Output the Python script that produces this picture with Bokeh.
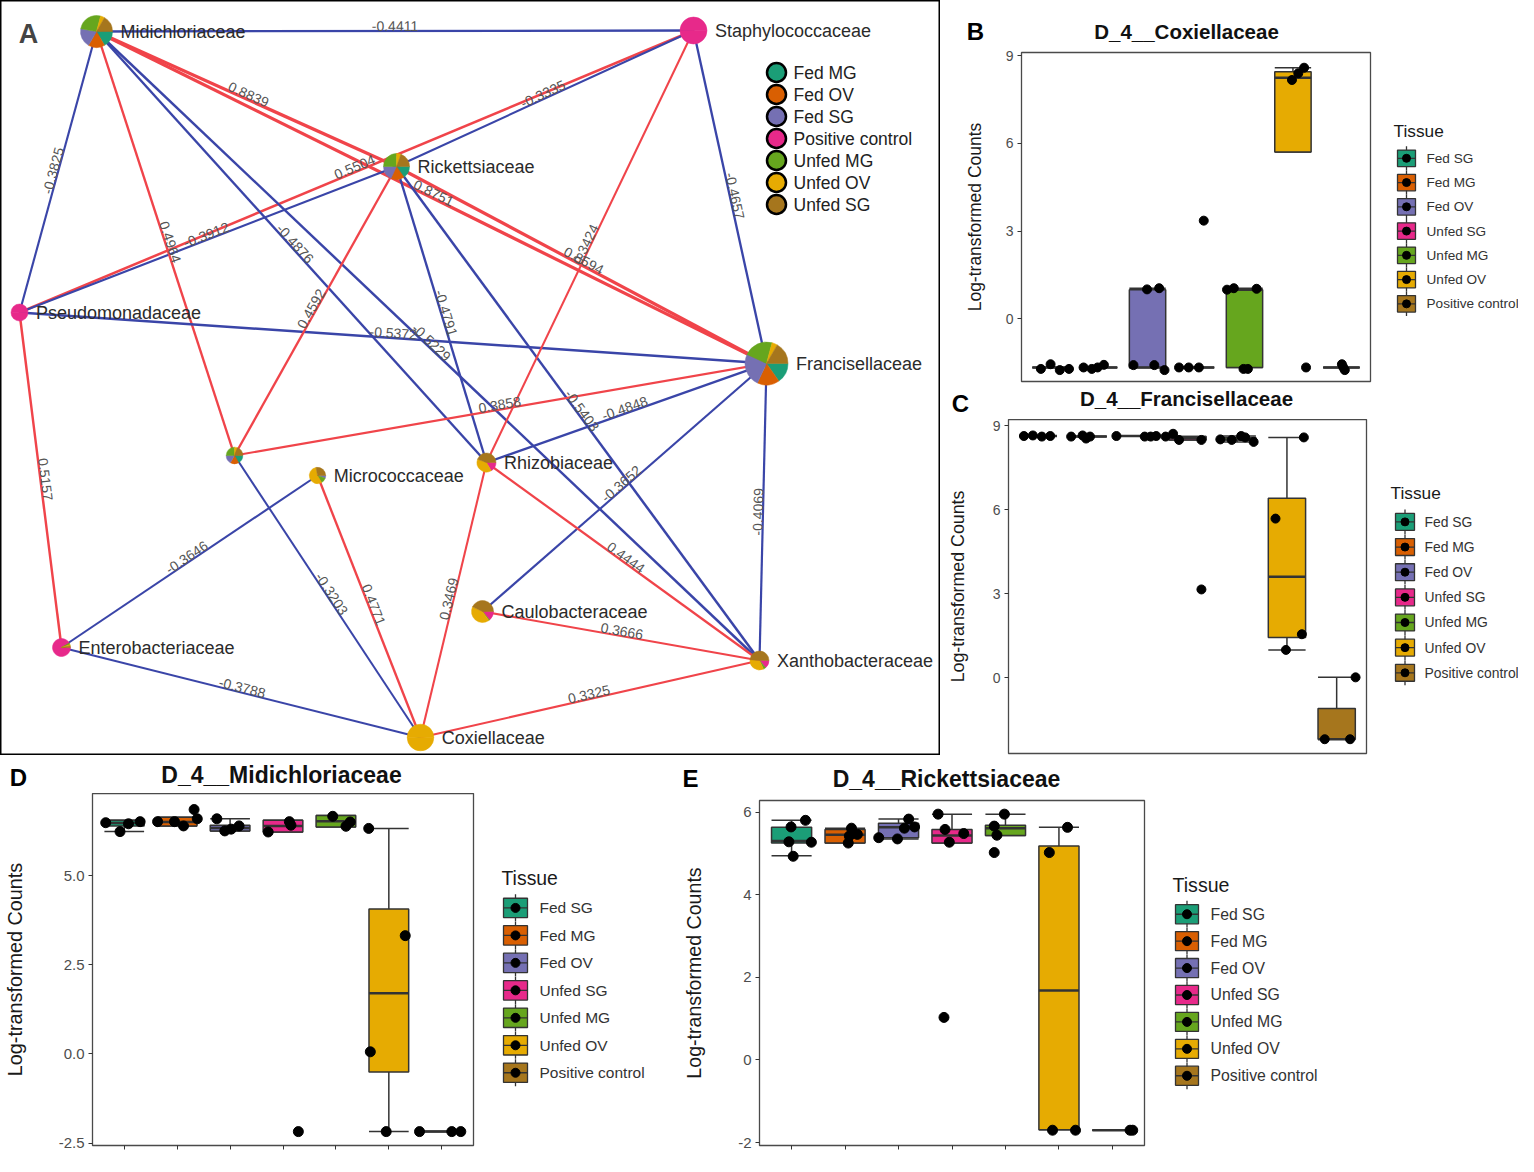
import math
from bokeh.plotting import figure
from bokeh.models import Range1d, Label, FixedTicker
from bokeh.layouts import row, column
from bokeh.embed import file_html
from bokeh.resources import INLINE
from bokeh.core.properties import value

FONT = "Liberation Sans"

# ---------------- Panel A : network ----------------
node_names = ["Midichloriaceae", "Staphylococcaceae", "Rickettsiaceae", "Pseudomonadaceae",
              "Francisellaceae", "unnamed", "Micrococcaceae", "Rhizobiaceae", "Caulobacteraceae",
              "Enterobacteriaceae", "Xanthobacteraceae", "Coxiellaceae"]
node_labels = ["Midichloriaceae", "Staphylococcaceae", "Rickettsiaceae", "Pseudomonadaceae",
               "Francisellaceae", "", "Micrococcaceae", "Rhizobiaceae", "Caulobacteraceae",
               "Enterobacteriaceae", "Xanthobacteraceae", "Coxiellaceae"]
node_x = [96, 693, 396, 19, 766, 234, 317, 486, 482, 61, 759, 420]
node_y = [724, 725, 589, 443, 392, 300, 280, 293, 144, 108, 95, 18]
node_r = [16, 13.5, 13, 8.5, 21.5, 8.3, 8.2, 9.5, 11, 9, 9.5, 13.3]

net_tissues = ["Fed MG", "Fed OV", "Fed SG", "Positive control", "Unfed MG", "Unfed OV", "Unfed SG"]
net_colors = ["#1b9e77", "#d95f02", "#7570b3", "#e7298a", "#66a61e", "#e6ab02", "#a6761d"]
# share of each tissue in each node (degrees of the pie)
node_share = [
    [60, 60, 70, 0, 95, 15, 60],
    [0, 0, 0, 360, 0, 0, 0],
    [55, 60, 65, 0, 90, 20, 70],
    [0, 0, 0, 360, 0, 0, 0],
    [55, 60, 90, 0, 80, 15, 60],
    [60, 60, 60, 0, 90, 20, 70],
    [0, 0, 20, 0, 40, 200, 100],
    [0, 0, 0, 60, 0, 140, 160],
    [0, 0, 0, 50, 5, 150, 155],
    [0, 0, 0, 330, 10, 10, 10],
    [0, 0, 0, 50, 15, 120, 175],
    [0, 0, 0, 0, 0, 360, 0],
]

edge_from = ["Midichloriaceae", "Midichloriaceae", "Midichloriaceae", "Midichloriaceae", "Rickettsiaceae",
             "Pseudomonadaceae", "Pseudomonadaceae", "Rickettsiaceae", "Midichloriaceae", "Midichloriaceae",
             "Midichloriaceae", "Pseudomonadaceae", "Pseudomonadaceae", "Rickettsiaceae", "Rickettsiaceae",
             "Rickettsiaceae", "unnamed", "Rhizobiaceae", "Caulobacteraceae", "Francisellaceae",
             "Staphylococcaceae", "unnamed", "Micrococcaceae", "Micrococcaceae", "Enterobacteriaceae",
             "Rhizobiaceae", "Rhizobiaceae", "Caulobacteraceae", "Coxiellaceae", "Staphylococcaceae"]
edge_to = ["Staphylococcaceae", "Pseudomonadaceae", "Rickettsiaceae", "Francisellaceae", "Francisellaceae",
           "Staphylococcaceae", "Rickettsiaceae", "Staphylococcaceae", "unnamed", "Rhizobiaceae",
           "Xanthobacteraceae", "Francisellaceae", "Enterobacteriaceae", "unnamed", "Rhizobiaceae",
           "Xanthobacteraceae", "Francisellaceae", "Francisellaceae", "Francisellaceae", "Xanthobacteraceae",
           "Francisellaceae", "Coxiellaceae", "Coxiellaceae", "Enterobacteriaceae", "Coxiellaceae",
           "Coxiellaceae", "Xanthobacteraceae", "Xanthobacteraceae", "Xanthobacteraceae", "Rhizobiaceae"]
edge_weight = [-0.4411, -0.3825, 0.8839, 0.8751, 0.8594,
               0.5504, -0.3912, -0.3335, 0.4964, -0.4876,
               -0.5229, -0.5372, 0.5157, 0.4592, -0.4791,
               -0.5403, 0.3858, -0.4848, -0.3652, -0.4069,
               -0.4657, -0.3203, 0.4771, -0.3646, -0.3788,
               0.3469, 0.4444, 0.3666, 0.3325, 0.3424]

POS_COL = "#f0444a"
NEG_COL = "#3a45a8"

pA = figure(width=940, height=755, x_range=Range1d(0, 940), y_range=Range1d(0, 755),
            toolbar_location=None, output_backend="svg", min_border=0,
            x_axis_location=None, y_axis_location=None)
pA.grid.grid_line_color = None
pA.outline_line_color = "black"
pA.outline_line_width = 2

idx = {n: i for i, n in enumerate(node_names)}
ex0, ey0, ex1, ey1, ecol, ewid = [], [], [], [], [], []
lx, ly, lang, ltxt = [], [], [], []
for a, b, w in zip(edge_from, edge_to, edge_weight):
    i, j = idx[a], idx[b]
    x0, y0, x1, y1 = node_x[i], node_y[i], node_x[j], node_y[j]
    ex0.append(x0); ey0.append(y0); ex1.append(x1); ey1.append(y1)
    ecol.append(POS_COL if w > 0 else NEG_COL)
    ewid.append(1.3 + 2.2 * abs(w))
    ang = math.atan2(y1 - y0, x1 - x0)
    if ang > math.pi / 2:
        ang -= math.pi
    elif ang <= -math.pi / 2:
        ang += math.pi
    lx.append((x0 + x1) / 2); ly.append((y0 + y1) / 2); lang.append(ang)
    ltxt.append("%.4f" % w)

pA.segment(x0=ex0, y0=ey0, x1=ex1, y1=ey1, line_color=ecol, line_width=ewid)
pA.text(x=lx, y=ly, text=ltxt, angle=lang, text_align="center", text_baseline="bottom",
        text_font=value(FONT), text_font_size="14px", text_color="#555555")

pA.text(x=node_x, y=node_y, text=node_labels, x_offset=[r + 8 for r in node_r],
        text_align="left", text_baseline="middle", text_font=value(FONT),
        text_font_size="18px", text_color="#2b2b2b")

wx, wy, wr, ws, we, wc = [], [], [], [], [], []
for k in range(len(node_names)):
    cum = 0.0
    for t, share in enumerate(node_share[k]):
        if share <= 0:
            continue
        parts = [share / 2, share / 2] if share >= 359 else [share]
        for part in parts:
            wx.append(node_x[k]); wy.append(node_y[k]); wr.append(node_r[k])
            ws.append(-math.radians(cum + part)); we.append(-math.radians(cum)); wc.append(net_colors[t])
            cum += part
pA.wedge(x=wx, y=wy, radius=wr, start_angle=ws, end_angle=we, fill_color=wc,
         line_color=wc, line_width=0.5)

leg_y = [755 - 72 - 22 * i for i in range(len(net_tissues))]
pA.scatter(x=[776] * len(net_tissues), y=leg_y, size=19, fill_color=net_colors,
           line_color="black", line_width=2.5)
pA.text(x=[793] * len(net_tissues), y=leg_y, text=net_tissues, text_baseline="middle",
        text_font=value(FONT), text_font_size="17.5px", text_color="#222222")
pA.add_layout(Label(x=28, y=722, text="A", text_font=FONT, text_font_size="27px",
                    text_font_style="bold", text_align="center", text_baseline="middle"))

# ---------------- Box plot panels ----------------
groups = ["Fed SG", "Fed MG", "Fed OV", "Unfed SG", "Unfed MG", "Unfed OV", "Positive control"]
group_colors = ["#1b9e77", "#d95f02", "#7570b3", "#e7298a", "#66a61e", "#e6ab02", "#a6761d"]

# B: D_4__Coxiellaceae
cox_q1 = [-1.66, -1.66, -1.66, -1.66, -1.66, 5.71, -1.66]
cox_med = [-1.66, -1.66, -1.66, -1.66, 1.00, 8.25, -1.66]
cox_q3 = [-1.66, -1.66, 1.00, -1.66, 1.00, 8.45, -1.66]
cox_lo = [-1.66, -1.66, -1.66, -1.66, -1.66, 5.71, -1.66]
cox_hi = [-1.66, -1.66, 1.05, -1.66, 1.05, 8.59, -1.66]
cox_pt_grp = [1, 1, 1, 1, 2, 2, 2, 2, 3, 3, 3, 3, 3, 4, 4, 4, 4, 5, 5, 5, 5, 5, 6, 6, 6, 6, 7, 7, 7]
cox_pt_dx = [-0.20, 0.00, 0.19, 0.38, -0.32, -0.15, -0.03, 0.10, -0.29, -0.01, 0.14, 0.24, 0.35,
             -0.35, -0.15, 0.06, 0.16, -0.36, -0.22, 0.25, -0.02, 0.07, -0.02, 0.11, 0.23, 0.27,
             0.01, 0.07, 0.04]
cox_pt_val = [-1.71, -1.55, -1.75, -1.71, -1.66, -1.71, -1.66, -1.57, -1.58, 1.01, -1.58, 1.05, -1.75,
              -1.66, -1.66, -1.66, 3.36, 1.00, 1.05, 1.03, -1.71, -1.71, 8.17, 8.40, 8.59, -1.66,
              -1.55, -1.75, -1.66]

# C: D_4__Francisellaceae
fra_q1 = [8.64, 8.62, 8.64, 8.50, 8.50, 1.44, -2.19]
fra_med = [8.64, 8.62, 8.64, 8.56, 8.52, 3.61, -2.19]
fra_q3 = [8.64, 8.62, 8.64, 8.62, 8.59, 6.42, -1.09]
fra_lo = [8.64, 8.62, 8.64, 8.50, 8.43, 1.00, -2.19]
fra_hi = [8.64, 8.62, 8.64, 8.62, 8.64, 8.59, 0.02]
fra_pt_grp = [1, 1, 1, 1, 2, 2, 2, 2, 3, 3, 3, 3, 4, 4, 4, 4, 4, 5, 5, 5, 5, 5, 6, 6, 6, 6, 7, 7, 7]
fra_pt_dx = [-0.29, -0.11, 0.07, 0.24, -0.34, -0.11, -0.04, 0.04, -0.43, 0.14, 0.26, 0.37,
             -0.44, -0.29, -0.17, 0.28, 0.28, -0.34, -0.11, 0.08, 0.16, 0.33, -0.23, 0.30, -0.02, 0.34,
             -0.24, 0.27, 0.38]
fra_pt_val = [8.64, 8.66, 8.62, 8.64, 8.62, 8.66, 8.55, 8.62, 8.64, 8.62, 8.62, 8.64,
              8.62, 8.72, 8.50, 8.50, 3.16, 8.52, 8.50, 8.64, 8.59, 8.43, 5.69, 1.56, 1.00, 8.59,
              -2.19, -2.19, 0.02]

# D: D_4__Midichloriaceae
mid_q1 = [6.40, 6.40, 6.26, 6.23, 6.37, -0.51, -2.18]
mid_med = [6.48, 6.51, 6.34, 6.40, 6.53, 1.70, -2.18]
mid_q3 = [6.56, 6.64, 6.42, 6.56, 6.69, 4.07, -2.18]
mid_lo = [6.24, 6.40, 6.26, 6.23, 6.37, -2.18, -2.18]
mid_hi = [6.56, 6.64, 6.60, 6.56, 6.69, 6.33, -2.18]
mid_pt_grp = [1, 1, 1, 1, 2, 2, 2, 2, 2, 3, 3, 3, 3, 4, 4, 4, 4, 5, 5, 5, 6, 6, 6, 6, 7, 7, 7]
mid_pt_dx = [-0.35, -0.08, 0.08, 0.30, -0.37, -0.05, 0.12, 0.32, 0.38, -0.25, -0.10, 0.02, 0.17,
             -0.28, 0.12, 0.15, 0.29, -0.06, 0.19, 0.27, -0.38, 0.31, -0.35, -0.05, -0.42, 0.19, 0.36]
mid_pt_val = [6.49, 6.24, 6.46, 6.52, 6.52, 6.52, 6.40, 6.86, 6.60, 6.60, 6.26, 6.31, 6.40,
              6.23, 6.52, 6.42, -2.18, 6.67, 6.39, 6.51, 6.33, 3.32, 0.06, -2.18, -2.18, -2.18, -2.18]

# E: D_4__Rickettsiaceae
ric_q1 = [5.25, 5.25, 5.38, 5.25, 5.43, -1.69, -1.70]
ric_med = [5.30, 5.45, 5.63, 5.43, 5.61, 1.68, -1.70]
ric_q3 = [5.63, 5.58, 5.73, 5.58, 5.68, 5.18, -1.70]
ric_lo = [4.94, 5.25, 5.35, 5.25, 5.43, -1.69, -1.70]
ric_hi = [5.80, 5.61, 5.83, 5.95, 5.95, 5.63, -1.70]
ric_pt_grp = [1, 1, 1, 1, 1, 2, 2, 2, 2, 3, 3, 3, 3, 3, 4, 4, 4, 4, 4, 5, 5, 5, 5, 6, 6, 6, 6, 7, 7]
ric_pt_dx = [-0.01, -0.05, 0.26, 0.37, 0.03, 0.08, 0.12, 0.06, 0.23, -0.37, -0.02, 0.19, 0.11, 0.30,
             -0.26, -0.13, -0.05, 0.22, -0.15, -0.02, -0.21, -0.16, -0.21, -0.18, 0.16, -0.12, 0.31,
             0.33, 0.38]
ric_pt_val = [5.64, 5.28, 5.80, 5.27, 4.93, 5.42, 5.61, 5.25, 5.46, 5.38, 5.35, 5.83, 5.61, 5.64,
              5.95, 5.58, 5.27, 5.48, 1.03, 5.95, 5.66, 5.44, 5.02, 5.02, 5.63, -1.70, -1.70,
              -1.70, -1.70]

EDGE = "#333333"


def blank_fig(w, h):
    p = figure(width=w, height=h, x_range=Range1d(0, w), y_range=Range1d(h, 0),
               toolbar_location=None, output_backend="svg", min_border=0,
               x_axis_location=None, y_axis_location=None)
    p.grid.grid_line_color = None
    p.outline_line_color = None
    return p


def header_fig(w, h, title, title_xy, title_size, letter, letter_xy):
    p = blank_fig(w, h)
    p.text(x=[title_xy[0]], y=[title_xy[1]], text=[title], text_align="center", text_baseline="middle",
           text_font=value(FONT), text_font_size=title_size, text_font_style="bold", text_color="#111111")
    p.text(x=[letter_xy[0]], y=[letter_xy[1]], text=[letter], text_align="center", text_baseline="middle",
           text_font=value(FONT), text_font_size="24px", text_font_style="bold", text_color="black")
    return p


def legend_fig(w, h, title_xy, title_size, y0, pitch, kx0, kx1, kh, tx, label_size, dot):
    p = blank_fig(w, h)
    ys = [y0 + pitch * i for i in range(len(groups))]
    xc = (kx0 + kx1) / 2
    n = len(groups)
    p.segment(x0=[xc] * n, y0=[y - kh / 2 - 4 for y in ys], x1=[xc] * n, y1=[y + kh / 2 + 4 for y in ys],
              line_color=EDGE, line_width=1.3)
    p.quad(left=[kx0] * n, right=[kx1] * n, top=[y - kh / 2 for y in ys], bottom=[y + kh / 2 for y in ys],
           fill_color=group_colors, line_color=EDGE, line_width=1.3)
    p.segment(x0=[kx0] * n, y0=ys, x1=[kx1] * n, y1=ys, line_color=EDGE, line_width=1.3)
    p.scatter(x=[xc] * n, y=ys, size=dot, color="black")
    p.text(x=[tx] * n, y=ys, text=groups, text_baseline="middle", text_font=value(FONT),
           text_font_size=label_size, text_color="#333333")
    p.text(x=[title_xy[0]], y=[title_xy[1]], text=["Tissue"], text_baseline="middle",
           text_font=value(FONT), text_font_size=title_size, text_color="#1a1a1a")
    return p


def box_fig(width, height, ml, mt, mb, frame_w, yr, yticks, ylabels, tick_size, ylabel_size,
            ylabel_standoff, stats, pg, pdx, pv, pt_size, x_axis):
    p = figure(width=width, height=height, x_range=Range1d(0.4, 7.6), y_range=Range1d(*yr),
               toolbar_location=None, output_backend="svg",
               min_border_left=ml, min_border_right=width - ml - frame_w,
               min_border_top=mt, min_border_bottom=mb,
               x_axis_location="below" if x_axis else None)
    p.grid.grid_line_color = None
    p.outline_line_color = "#4a4a4a"
    p.outline_line_width = 1.3
    ya = p.yaxis[0]
    ya.ticker = FixedTicker(ticks=yticks)
    ya.major_label_overrides = {t: s for t, s in zip(yticks, ylabels)}
    ya.major_label_text_font = FONT
    ya.major_label_text_font_size = tick_size
    ya.major_label_text_color = "#4d4d4d"
    ya.major_label_standoff = 4
    ya.major_tick_out = 4
    ya.major_tick_in = 0
    ya.major_tick_line_color = "#333333"
    ya.minor_tick_line_color = None
    ya.axis_line_color = None
    ya.axis_label = "Log-transformed Counts"
    ya.axis_label_text_font = FONT
    ya.axis_label_text_font_style = "normal"
    ya.axis_label_text_font_size = ylabel_size
    ya.axis_label_text_color = "#1a1a1a"
    ya.axis_label_standoff = ylabel_standoff
    if x_axis:
        xa = p.xaxis[0]
        xa.ticker = FixedTicker(ticks=list(range(1, 8)))
        xa.major_label_overrides = {i: "" for i in range(1, 8)}
        xa.major_label_standoff = 0
        xa.major_tick_out = 4
        xa.major_tick_in = 0
        xa.major_tick_line_color = "#333333"
        xa.minor_tick_line_color = None
        xa.axis_line_color = None

    q1, med, q3, lo, hi = stats
    xs = list(range(1, 8))
    hw = 0.375
    left = [x - hw for x in xs]
    right = [x + hw for x in xs]
    p.segment(x0=xs, y0=q3, x1=xs, y1=hi, line_color=EDGE, line_width=1.5)
    p.segment(x0=xs, y0=q1, x1=xs, y1=lo, line_color=EDGE, line_width=1.5)
    p.segment(x0=left, y0=hi, x1=right, y1=hi, line_color=EDGE, line_width=1.5)
    p.segment(x0=left, y0=lo, x1=right, y1=lo, line_color=EDGE, line_width=1.5)
    p.quad(left=left, right=right, bottom=q1, top=q3, fill_color=group_colors,
           line_color=EDGE, line_width=1.5)
    p.segment(x0=left, y0=med, x1=right, y1=med, line_color=EDGE, line_width=2.5)
    p.scatter(x=[g + d for g, d in zip(pg, pdx)], y=pv, size=pt_size, color="black")
    return p


# Panel B (578 x 385)
hB = header_fig(578, 46, "D_4__Coxiellaceae", (246, 31), "20.5px", "B", (35, 31))
bB = box_fig(434, 339, 81, 6, 4, 349, (-2.14, 9.11), [0, 3, 6, 9], ["0", "3", "6", "9"],
             "14px", "17.5px", 18, (cox_q1, cox_med, cox_q3, cox_lo, cox_hi),
             cox_pt_grp, cox_pt_dx, cox_pt_val, 9, False)
lB = legend_fig(144, 339, (19, 81), "17.3px", 109, 25, 23, 41, 17, 52, "13.6px", 8)
panelB = column(hB, row(bB, lB))

# Panel C (578 x 370)
hC = header_fig(578, 34, "D_4__Francisellaceae", (246, 13), "20.5px", "C", (20, 18))
bC = box_fig(430, 336, 68, 0, 2, 358, (-2.70, 9.23), [0, 3, 6, 9], ["0", "3", "6", "9"],
             "14px", "17.8px", 22, (fra_q1, fra_med, fra_q3, fra_lo, fra_hi),
             fra_pt_grp, fra_pt_dx, fra_pt_val, 9, False)
lC = legend_fig(148, 336, (20, 74), "17.3px", 103, 25.3, 25, 44, 17, 54, "13.9px", 8)
panelC = column(hC, row(bC, lC))

# Panel D (680 x 401)
hD = header_fig(680, 38, "D_4__Midichloriaceae", (281, 19), "23px", "D", (18, 22))
bD = box_fig(477, 363, 91, 0, 11, 382, (-2.57, 7.31), [-2.5, 0, 2.5, 5.0],
             ["-2.5", "0.0", "2.5", "5.0"], "15px", "19.8px", 30,
             (mid_q1, mid_med, mid_q3, mid_lo, mid_hi), mid_pt_grp, mid_pt_dx, mid_pt_val, 10, True)
lD = legend_fig(203, 363, (24, 87), "19.4px", 118, 28.33, 26, 50, 20, 62, "15.5px", 9)
panelD = column(hD, row(bD, lD))

# Panel E (660 x 401)
hE = header_fig(660, 40, "D_4__Rickettsiaceae", (266, 23), "23px", "E", (10, 23))
bE = box_fig(468, 361, 67, 5, 11, 397, (-2.07, 6.28), [-2, 0, 2, 4, 6],
             ["-2", "0", "2", "4", "6"], "15px", "19.6px", 30,
             (ric_q1, ric_med, ric_q3, ric_lo, ric_hi), ric_pt_grp, ric_pt_dx, ric_pt_val, 10, True)
lE = legend_fig(192, 361, (24, 88), "19.6px", 119, 28.17, 27, 50, 20, 62, "15.8px", 9)
panelE = column(hE, row(bE, lE))

layout = column(row(pA, column(panelB, panelC)), row(panelD, panelE))
open("out.html", "w").write(file_html(layout, INLINE))
